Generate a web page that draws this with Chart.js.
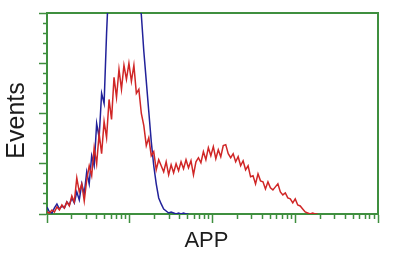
<!DOCTYPE html>
<html>
<head>
<meta charset="utf-8">
<script src="https://cdn.jsdelivr.net/npm/chart.js@4/dist/chart.umd.min.js"></script>
<style>
html,body{margin:0;padding:0;background:#fff;}
#wrap{width:400px;height:265px;}
</style>
</head>
<body>
<div id="wrap"><canvas id="c" width="400" height="265"></canvas></div>
<script>
// log10 fluorescence bins (decades)
const logIntensity = [0.00,0.03,0.06,0.09,0.12,0.15,0.18,0.21,0.24,0.27,0.30,0.33,0.36,0.39,0.42,0.45,0.48,0.51,0.54,0.57,0.60,0.63,0.66,0.69,0.72,0.75,0.78,0.81,0.84,0.87,0.90,0.93,0.96,0.99,1.02,1.05,1.08,1.11,1.14,1.17,1.20,1.23,1.26,1.29,1.32,1.35,1.38,1.41,1.44,1.47,1.50,1.53,1.56,1.59,1.62,1.65,1.68,1.71,1.74,1.77,1.80,1.83,1.86,1.89,1.92,1.95,1.98,2.01,2.04,2.07,2.10,2.13,2.16,2.19,2.22,2.25,2.28,2.31,2.34,2.37,2.40,2.43,2.46,2.49,2.52,2.55,2.58,2.61,2.64,2.67,2.70,2.73,2.76,2.79,2.82,2.85,2.88,2.91,2.94,2.97,3.00,3.03,3.06,3.09,3.12,3.15,3.18,3.21,3.24,3.27];
// isotype control (blue)
const controlEvents = [3.5,1,0.5,3,5,2.5,4,3,6,4.5,8,5.5,11,7,15,10,21,15,29,24,45,38,60,55,90,118,126,131,128,135,132,138,134,136,130,127,118,110,99,81,66,51,36,24,15,8,5,2.5,1.5,0.5,1,0.5,0,0.5,0,0.5,0,0];
// APP stained (red)
const appEvents = [1,0.5,2,1,3.5,2,4.5,3,6,4,9,6,18,11,15,6.5,17,24,19,33,25,40,30,46,38,57,47,68,58,72,62,74,67,75,66,74,60,62,50,44,34,38,29,31,22,27,24,21,26,19.5,24.5,20.5,25,21.5,26,22.5,27,23,26.5,19.5,26,28,25.5,31,27,33,29,33.5,27.5,32,28.5,34,34.5,30,28,30,26,28.5,24,26.5,22,24,18.5,19,15,20,16.5,16,12.5,16,13,12,13.5,15,11,9.5,10.5,8,7.5,5.5,7.5,4.5,4,2.5,1,0.5,0,0.5,0,0];
// axis decades and minor multipliers
const xDecades = [0,1,2,3,4];
const minorMultipliers = [2,3,4,5,6,7,8,9];
const yMax = 100, yStep = 5, yMajorEvery = 25;

const green = '#3f8f3f';
const toPts = arr => arr.map((v,i) => ({x: logIntensity[i], y: v}));

const xTickValues = [];
xDecades.forEach(d => {
  xTickValues.push(d);
  if (d < xDecades[xDecades.length-1]) minorMultipliers.forEach(m => xTickValues.push(d + Math.log10(m)));
});
const isInt = v => Math.abs(v - Math.round(v)) < 1e-6;

new Chart(document.getElementById('c'), {
  type: 'line',
  data: {
    datasets: [
      {data: toPts(appEvents), borderColor: '#d02626', borderWidth: 1.5, pointRadius: 0, tension: 0, xAxisID: 'x', yAxisID: 'y'},
      {data: toPts(controlEvents), borderColor: '#22229a', borderWidth: 1.5, pointRadius: 0, tension: 0, xAxisID: 'x', yAxisID: 'y'}
    ]
  },
  options: {
    responsive: false,
    animation: false,
    devicePixelRatio: 1,
    layout: {padding: {top: 13, right: 22, left: 0, bottom: 0}},
    plugins: {legend: {display: false}, tooltip: {enabled: false}},
    scales: {
      x: {
        type: 'linear', position: 'bottom', min: 0, max: 4,
        afterBuildTicks: s => { s.ticks = xTickValues.map(v => ({value: v})); },
        afterFit: s => { s.height = 51; },
        ticks: {display: false, autoSkip: false},
        grid: {drawOnChartArea: false, drawTicks: true, tickLength: 9, tickColor: green, tickWidth: 1.5,
               tickBorderDash: ctx => (ctx.tick && isInt(ctx.tick.value)) ? [] : [4, 40]},
        border: {color: green, width: 2},
        title: {display: true, text: 'APP  ', color: '#1c1c1c', font: {family: "'Liberation Sans', Arial, sans-serif", size: 22}, padding: {top: 0, bottom: 11}}
      },
      y: {
        type: 'linear', position: 'left', min: 0, max: yMax,
        ticks: {display: false, stepSize: yStep},
        afterFit: s => { s.width = 47; },
        grid: {drawOnChartArea: false, drawTicks: true, tickLength: 8, tickColor: green, tickWidth: 1.5,
               tickBorderDash: ctx => (ctx.tick && ctx.tick.value % yMajorEvery === 0) ? [] : [0, 4, 5, 40]},
        border: {color: green, width: 2},
        title: {display: true, text: 'Events  ', color: '#1c1c1c', font: {family: "'Liberation Sans', Arial, sans-serif", size: 25}, padding: {top: 2, bottom: 0}}
      },
      xTop: {
        type: 'linear', position: 'top', min: 0, max: 4,
        ticks: {display: false}, afterFit: s => { s.height = 0; },
        grid: {drawOnChartArea: false, drawTicks: false},
        border: {color: green, width: 2}
      },
      yRight: {
        type: 'linear', position: 'right', min: 0, max: yMax,
        ticks: {display: false}, afterFit: s => { s.width = 0; },
        grid: {drawOnChartArea: false, drawTicks: false},
        border: {color: green, width: 2}
      }
    }
  }
});
</script>
</body>
</html>
